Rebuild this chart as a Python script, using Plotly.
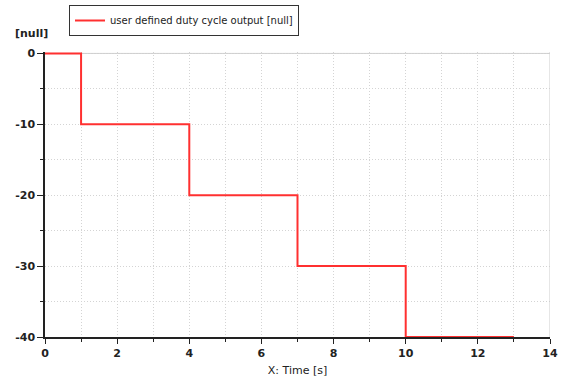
import plotly.graph_objects as go

# Duty cycle step profile: time breakpoints and output levels
time_s = [0, 1, 1, 4, 4, 7, 7, 10, 10, 13]
output = [0, 0, -10, -10, -20, -20, -30, -30, -40, -40]

x_ticks = [0, 2, 4, 6, 8, 10, 12, 14]
y_ticks = [0, -10, -20, -30, -40]
y_tick_text = ["0", "-10", "-20", "-30", "-40"]

W, H = 561, 381
L, R, T, B = 45, 11, 52, 44
PW, PH = W - L - R, H - T - B

fig = go.Figure()
fig.add_trace(go.Scatter(
    x=time_s, y=output, mode="lines",
    line=dict(color="#ff3030", width=2),
    name="user defined duty cycle output [null]",
))

font_family = "DejaVu Sans, Verdana, sans-serif"
grid_col = "#d4d4d4"
grid_dash = "1px,2px"

fig.update_layout(
    width=W, height=H,
    margin=dict(l=L, r=R, t=T, b=B, autoexpand=False),
    paper_bgcolor="white", plot_bgcolor="white",
    showlegend=True,
    legend=dict(
        x=(69 - L) / PW, y=1 + (T - 5) / PH, xref="paper", yref="paper",
        xanchor="left", yanchor="top",
        bordercolor="#333333", borderwidth=1,
        font=dict(family=font_family, size=10, color="#222222"),
        itemwidth=30, tracegroupgap=0,
    ),
    font=dict(family=font_family, size=11, color="#222222"),
    xaxis=dict(
        range=[0, 14], tickvals=x_ticks, automargin=False, layer="below traces",
        showline=True, linecolor="#222222", linewidth=1.5,
        ticks="outside", ticklen=5, tickcolor="#222222",
        tickfont=dict(family=font_family, size=11, color="#222222", weight="bold"),
        showgrid=True, gridcolor=grid_col, griddash=grid_dash, gridwidth=1,
        minor=dict(dtick=1, tick0=0, ticks="outside", ticklen=3, tickcolor="#222222",
                   showgrid=True, gridcolor=grid_col, griddash=grid_dash),
        mirror=False, zeroline=False,
        title=dict(text="X: Time [s]", font=dict(family=font_family, size=11, color="#222222"), standoff=7),
    ),
    yaxis=dict(
        range=[-40, 0.2], tickvals=y_ticks, ticktext=y_tick_text,
        automargin=False, layer="below traces",
        showline=True, linecolor="#222222", linewidth=1.5,
        ticks="outside", ticklen=6, tickcolor="#222222",
        tickfont=dict(family=font_family, size=11, color="#222222", weight="bold"),
        showgrid=True, gridcolor=grid_col, griddash=grid_dash, gridwidth=1,
        minor=dict(dtick=5, tick0=0, ticks="outside", ticklen=3, tickcolor="#222222",
                   showgrid=True, gridcolor=grid_col, griddash=grid_dash),
        zeroline=False,
    ),
    annotations=[dict(
        text="<b>[null]</b>", x=(13 - L) / PW, y=1 + (T - 33) / PH, xref="paper", yref="paper",
        xanchor="left", yanchor="middle", showarrow=False,
        font=dict(family=font_family, size=11, color="#222222"),
    )],
    shapes=[
        dict(type="line", xref="x", yref="paper", x0=14, x1=14, y0=0, y1=1,
             line=dict(color="#cccccc", width=1)),
        dict(type="line", xref="paper", yref="y", x0=0, x1=1, y0=0, y1=0,
             line=dict(color="#cccccc", width=1), layer="below"),
    ],
)

fig.write_html("out.html")
